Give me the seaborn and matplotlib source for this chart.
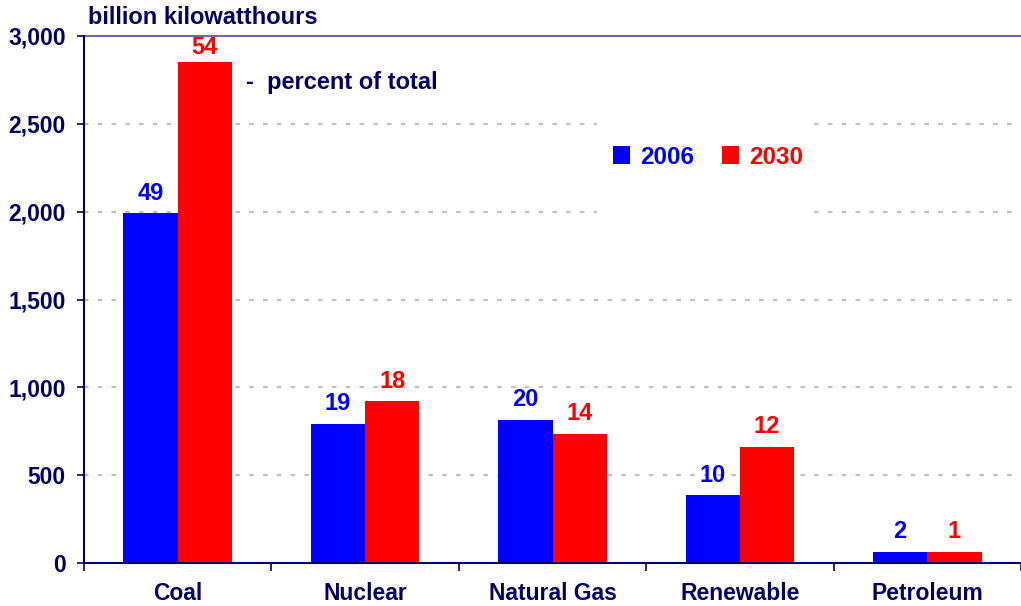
import pandas as pd
import matplotlib
matplotlib.use("Agg")
import matplotlib.pyplot as plt
from matplotlib.patches import Rectangle
import seaborn as sns

sources = ["Coal", "Nuclear", "Natural Gas", "Renewable", "Petroleum"]
kwh_2006 = [1990, 790, 815, 385, 65]
kwh_2030 = [2850, 920, 735, 660, 65]
pct_2006 = [49, 19, 20, 10, 2]
pct_2030 = [54, 18, 14, 12, 1]
yticks = [0, 500, 1000, 1500, 2000, 2500, 3000]

navy = "#000066"
blue = "#0000ff"
red = "#ff0000"

sns.set_style("ticks")
plt.rcParams["font.family"] = ["Liberation Sans", "DejaVu Sans"]
plt.rcParams["font.weight"] = "bold"

df = pd.DataFrame({
    "source": sources * 2,
    "kwh": kwh_2006 + kwh_2030,
    "year": ["2006"] * 5 + ["2030"] * 5,
})

W, H = 1021, 606
fig = plt.figure(figsize=(W / 100, H / 100), dpi=100)
ax = fig.add_axes([84 / W, 43 / H, 1 - 84 / W, 527 / H])

# dotted grid behind the bars
for v in yticks[1:-1]:
    ax.axhline(v, color="#c0c0c0", lw=1.6, ls=(0, (2, 4.2)), zorder=0)
ax.axhline(3000, color="#6b6b9f", lw=1.5, zorder=0, clip_on=False)

sns.barplot(data=df, x="source", y="kwh", hue="year", palette=[blue, red],
            width=0.58, saturation=1, gap=0, ax=ax, zorder=2, legend=True,
            linewidth=0, edgecolor="none")

# percent labels over bars
for cont, pcts, col in zip(ax.containers, [pct_2006, pct_2030], [blue, red]):
    for bar, p in zip(cont, pcts):
        ax.text(bar.get_x() + bar.get_width() / 2, min(bar.get_height() + 50, 2870), str(p),
                ha="center", va="bottom", color=col, fontsize=17, fontweight="bold", zorder=4)

ax.set_ylim(0, 3000)
ax.set_xlim(-0.5, 4.5 - 10.5 / 189.5)
ax.set_yticks(yticks)
ax.set_yticklabels([f"{v:,}" for v in yticks])
ax.set_xticks(range(5))
ax.set_xticks([k - 0.5 for k in range(5)] + [4.5], minor=True)
ax.tick_params(axis="x", which="major", length=0, pad=13.5, labelsize=16.5, labelcolor=navy)
ax.tick_params(axis="x", which="minor", length=6, width=1.2, color=navy)
ax.tick_params(axis="y", length=5, width=1.2, color=navy, pad=8, labelsize=16.5, labelcolor=navy)
for lab in ax.get_xticklabels() + ax.get_yticklabels():
    lab.set_fontweight("bold")
ax.set_xlabel("")
ax.set_ylabel("")

for s in ["top", "right"]:
    ax.spines[s].set_visible(False)
for s in ["left", "bottom"]:
    ax.spines[s].set_color(navy)
    ax.spines[s].set_linewidth(1.5)

fig.text(88 / W, 1 - 18 / H, "billion kilowatthours", color=navy, fontsize=17,
         fontweight="bold", va="center", ha="left")
fig.text(246 / W, 1 - 83 / H, "-  percent of total", color=navy, fontsize=17,
         fontweight="bold", va="center", ha="left")

# white box behind the legend breaks the grid lines
ax.add_patch(Rectangle((597 / W, 1 - 216 / H), 213 / W, 100 / H,
                       transform=fig.transFigure, facecolor="white", edgecolor="none", zorder=1))

leg = ax.legend(loc="center", bbox_to_anchor=(708 / W, 1 - 157 / H),
                bbox_transform=fig.transFigure, ncol=2, frameon=False, fontsize=17.5,
                handlelength=0.7, handleheight=0.7, handletextpad=0.4, columnspacing=1.15)
leg.set_zorder(5)
for txt, col in zip(leg.get_texts(), [blue, red]):
    txt.set_color(col)
    txt.set_fontweight("bold")

fig.savefig("out.png", dpi=100)
